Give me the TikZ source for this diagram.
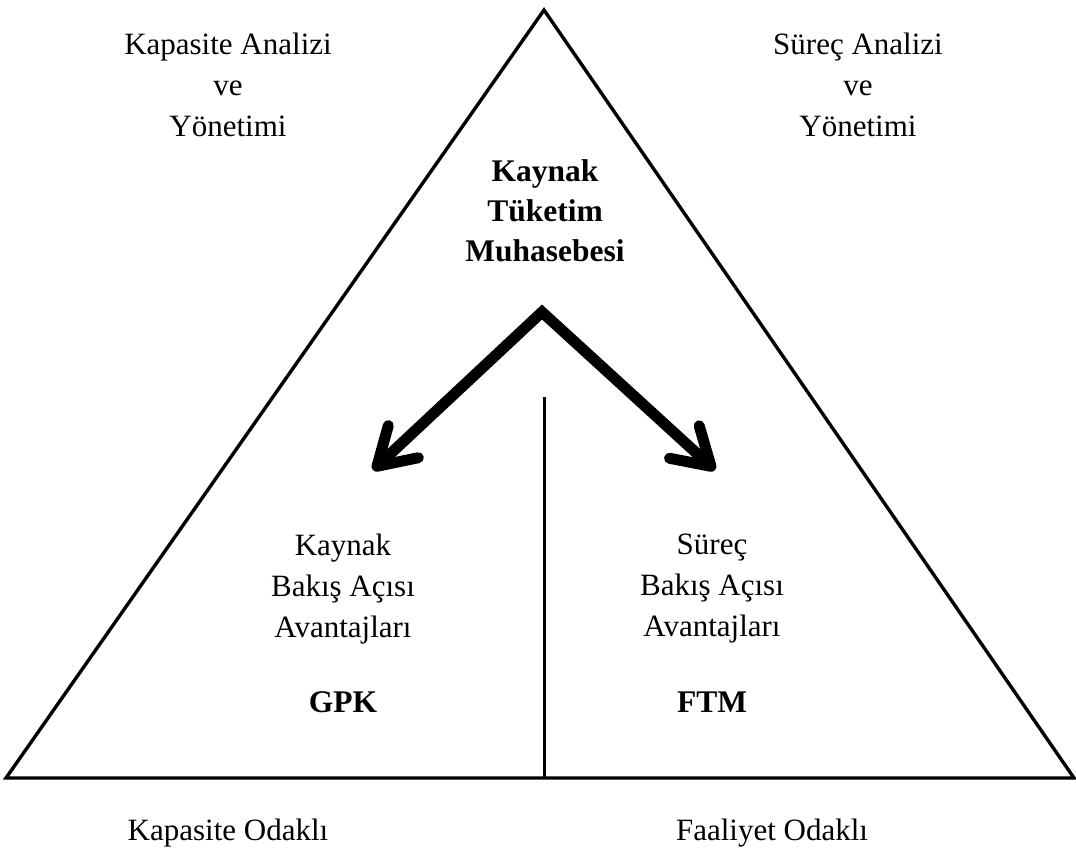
\documentclass[tikz,border=0pt]{standalone}
\usepackage{fontspec}
\setmainfont{Liberation Serif}
\usetikzlibrary{arrows.meta}
\begin{document}
\begin{tikzpicture}[x=1pt,y=-1pt,
  label/.style={align=center,inner sep=0pt,font=\fontsize{31}{41}\selectfont},
  boldlabel/.style={align=center,inner sep=0pt,font=\fontsize{31.5}{40}\selectfont\bfseries},
  frame/.style={line width=3.4pt,line join=miter},
  divider/.style={line width=3pt},
  bigarrow/.style={line width=11pt,line join=miter,
    arrows={Straight Barb[length=36pt,width=44pt,round]-Straight Barb[length=36pt,width=44pt,round]}}]
  \useasboundingbox (0,0) rectangle (1076,855);

  % outer triangle
  \coordinate (top) at (544,10);
  \coordinate (bl) at (6,778);
  \coordinate (br) at (1074,778);
  \draw[frame] (top) -- (br) -- (bl) -- cycle;

  % divider from the base upwards
  \coordinate (divtop) at (544,397);
  \coordinate (divbot) at (544,778);
  \draw[divider] (divtop) -- (divbot);

  % corner captions
  \node[label] (capleft) at (228,85) {Kapasite Analizi\\ve\\Yönetimi};
  \node[label] (capright) at (858,85) {Süreç Analizi\\ve\\Yönetimi};

  % central concept
  \node[boldlabel] (rca) at (545,211) {Kaynak\\Tüketim\\Muhasebesi};

  % the two perspectives
  \node[label] (resview) at (343,589) {Kaynak\\Bakış Açısı\\Avantajları};
  \node[label] (procview) at (712,589) {Süreç\\Bakış Açısı\\Avantajları};
  \node[boldlabel] (gpk) at (343,702) {GPK};
  \node[boldlabel] (ftm) at (712,702) {FTM};

  % bottom captions
  \node[label] (focusleft) at (228,833) {Kapasite Odaklı};
  \node[label] (focusright) at (772,833) {Faaliyet Odaklı};

  % split arrow
  \coordinate (apex) at (542,312);
  \coordinate (tipl) at (373,470);
  \coordinate (tipr) at (715,470);
  \draw[bigarrow] (tipl) -- (apex) -- (tipr);
\end{tikzpicture}
\end{document}
